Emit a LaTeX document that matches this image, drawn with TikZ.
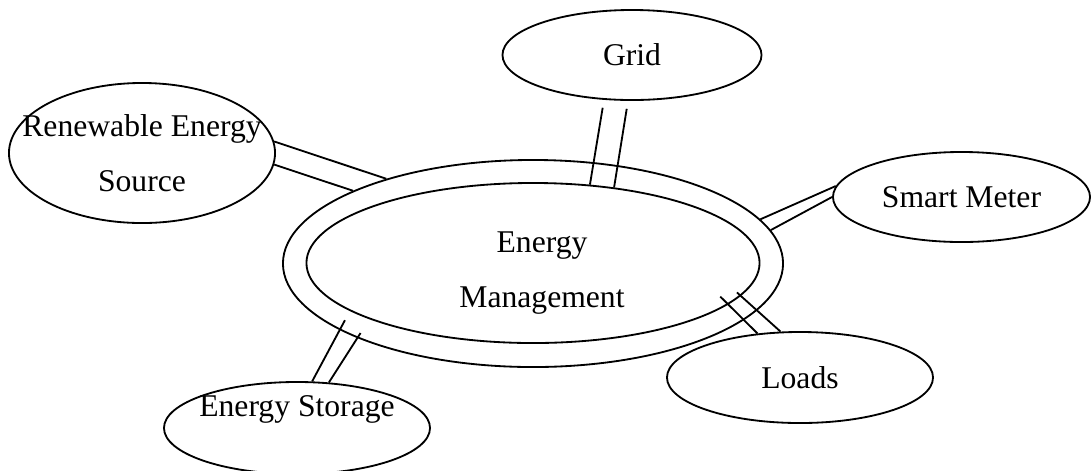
\documentclass[tikz,border=0pt]{standalone}
\usepackage{fontspec}
\setmainfont{Liberation Serif}
\usetikzlibrary{shapes.geometric}

\tikzset{
  words/.style={align=center, font=\fontsize{22.5}{39}\selectfont},
  bubble/.style={ellipse, draw, line width=1.3pt, inner sep=-3cm, words},
  link/.style={line width=1.3pt}
}

\begin{document}
\begin{tikzpicture}[x=0.025cm,y=-0.025cm]
\clip (0,0) rectangle (1092,470);

\node[bubble, minimum width=11.325cm, minimum height=4cm] (em) at (533,263) {};
\node[bubble, minimum width=12.5cm, minimum height=5.175cm] (ring) at (533,263.5) {};
\node[words] (emtext) at (542,273) {Energy\\Management};

\node[bubble, minimum width=6.65cm, minimum height=3.5cm] (ren) at (142,153) {Renewable Energy\\Source};
\node[bubble, minimum width=6.475cm, minimum height=2.25cm] (grid) at (632,55) {Grid};
\node[bubble, minimum width=6.425cm, minimum height=2.25cm] (meter) at (961.5,197) {Smart Meter};
\node[bubble, minimum width=6.65cm, minimum height=2.275cm] (loads) at (800,377.5) {Loads};
\node[bubble, minimum width=6.65cm, minimum height=2.3cm, text depth=1.09cm] (store) at (297,428) {Energy Storage};

% double links to the ring
\draw[link] (ren.5) -- (ring.150);
\draw[link] (ren.-5) -- (ring.158);

\draw[link, shorten <=0.2cm] (grid.-122) -- (em.54);
\draw[link, shorten <=0.2cm] (grid.-95) -- (em.43);

\draw[link] (meter.175) -- (ring.11);
\draw[link] (meter.180) -- (ring.8);

\draw[link, shorten <=-0.28cm] (em.-12) -- (loads.134);
\draw[link, shorten <=-0.13cm] (em.-9) -- (loads.113);

\draw[link, shorten <=-0.28cm] (ring.-161) -- (store.72);
\draw[link, shorten <=-0.15cm] (ring.-157) -- (store.55);
\end{tikzpicture}
\end{document}
